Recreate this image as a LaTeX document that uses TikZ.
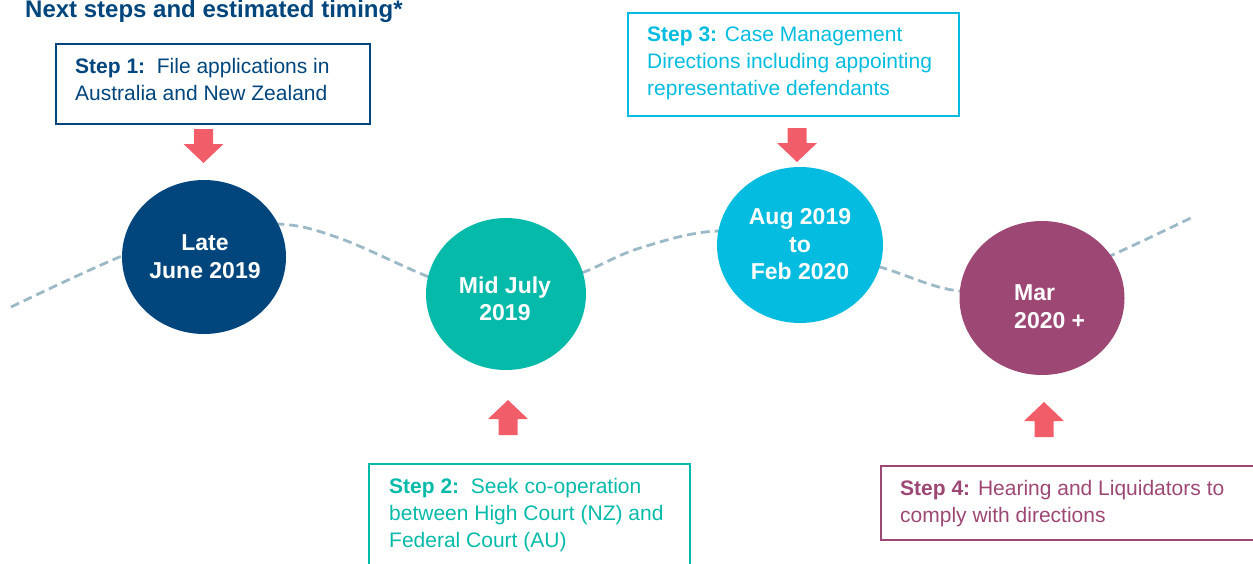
\documentclass[tikz,border=0pt]{standalone}
\usepackage{fontspec}
\setmainfont{Liberation Sans}
\usetikzlibrary{shapes.geometric}
\definecolor{cblue}{HTML}{00457C}
\definecolor{cteal}{HTML}{06BAAA}
\definecolor{ccyan}{HTML}{03BCE0}
\definecolor{cpurple}{HTML}{9D4874}
\definecolor{cred}{HTML}{F25D6A}
\definecolor{cdash}{HTML}{9CB9C7}
\begin{document}
\begin{tikzpicture}[x=1pt,y=-1pt,
  stepbox/.style={draw, line width=2pt, rectangle, inner sep=0pt, anchor=north west},
  steptext/.style={anchor=north west, inner sep=0pt, align=left, font=\fontsize{21}{27}\selectfont},
  dot/.style={ellipse, inner sep=0pt},
  dottext/.style={anchor=north, inner sep=0pt, align=center, text=white, font=\fontsize{23}{27.5}\selectfont\bfseries},
  timeline/.style={draw=cdash, line width=2.8pt, dash pattern=on 9pt off 5pt},
  downarr/.pic={\fill[cred] (-9.5,0) -- (9.5,0) -- (9.5,15) -- (20,15) -- (0,34) -- (-20,15) -- (-9.5,15) -- cycle;},
  uparr/.pic={\fill[cred] (0,0) -- (20,19) -- (9.5,19) -- (9.5,35) -- (-9.5,35) -- (-9.5,19) -- (-20,19) -- cycle;}
]
\useasboundingbox (0,0) rectangle (1253,563);
\clip (0,0) rectangle (1253,563);

% title
\node[anchor=base west, inner sep=0pt, text=cblue, font=\fontsize{24}{28}\selectfont\bfseries] (title) at (25,17.5) {Next steps and estimated timing*};

% timeline
\path[timeline] plot[smooth, tension=0.6] coordinates {(11,307) (122,256) (200,231) (278,224) (339,238) (429,277) (480,292) (530,290) (584,272) (640,248) (719,231) (800,245) (880,267) (959,291) (1040,285) (1110,256) (1195,216)};

% circles
\node[dot, fill=cblue, minimum width=164pt, minimum height=154pt] (c1) at (204,257) {};
\node[dot, fill=cteal, minimum width=160pt, minimum height=152pt] (c2) at (506,294) {};
\node[dot, fill=ccyan, minimum width=166pt, minimum height=156pt] (c3) at (800,245) {};
\node[dot, fill=cpurple, minimum width=165pt, minimum height=154pt] (c4) at (1042,298) {};

\node[dottext] (c1t) at (205,234.5) {Late\\June 2019};
\node[dottext] (c2t) at (505,276.2) {Mid July\\2019};
\node[dottext] (c3t) at (800,208.5) {Aug 2019\\to\\Feb 2020};
\node[dottext, anchor=north west, align=left] (c4t) at (1014,284.5) {Mar\\2020 +};

% arrows
\pic at (203.5,129) {downarr};
\pic at (797,128) {downarr};
\pic at (508,400) {uparr};
\pic at (1044,402) {uparr};

% step boxes
\node[stepbox, draw=cblue, minimum width=314pt, minimum height=80pt] (b1) at (55,43) {};
\node[steptext, text=cblue] (t1) at (75,57.7) {\textbf{Step 1:}\ \ File applications in\\Australia and New Zealand};

\node[stepbox, draw=ccyan, minimum width=331pt, minimum height=103pt] (b3) at (627,12) {};
\node[steptext, text=ccyan] (t3) at (647,26.7) {\textbf{Step 3:} Case Management\\Directions including appointing\\representative defendants};

\node[stepbox, draw=cteal, minimum width=321pt, minimum height=110pt] (b2) at (368,463) {};
\node[steptext, text=cteal] (t2) at (389,477.7) {\textbf{Step 2:}\ \ Seek co-operation\\between High Court (NZ) and\\Federal Court (AU)};

\node[stepbox, draw=cpurple, minimum width=400pt, minimum height=74pt] (b4) at (880,465) {};
\node[steptext, text=cpurple] (t4) at (900,479.7) {\textbf{Step 4:} Hearing and Liquidators to\\comply with directions};
\end{tikzpicture}
\end{document}
